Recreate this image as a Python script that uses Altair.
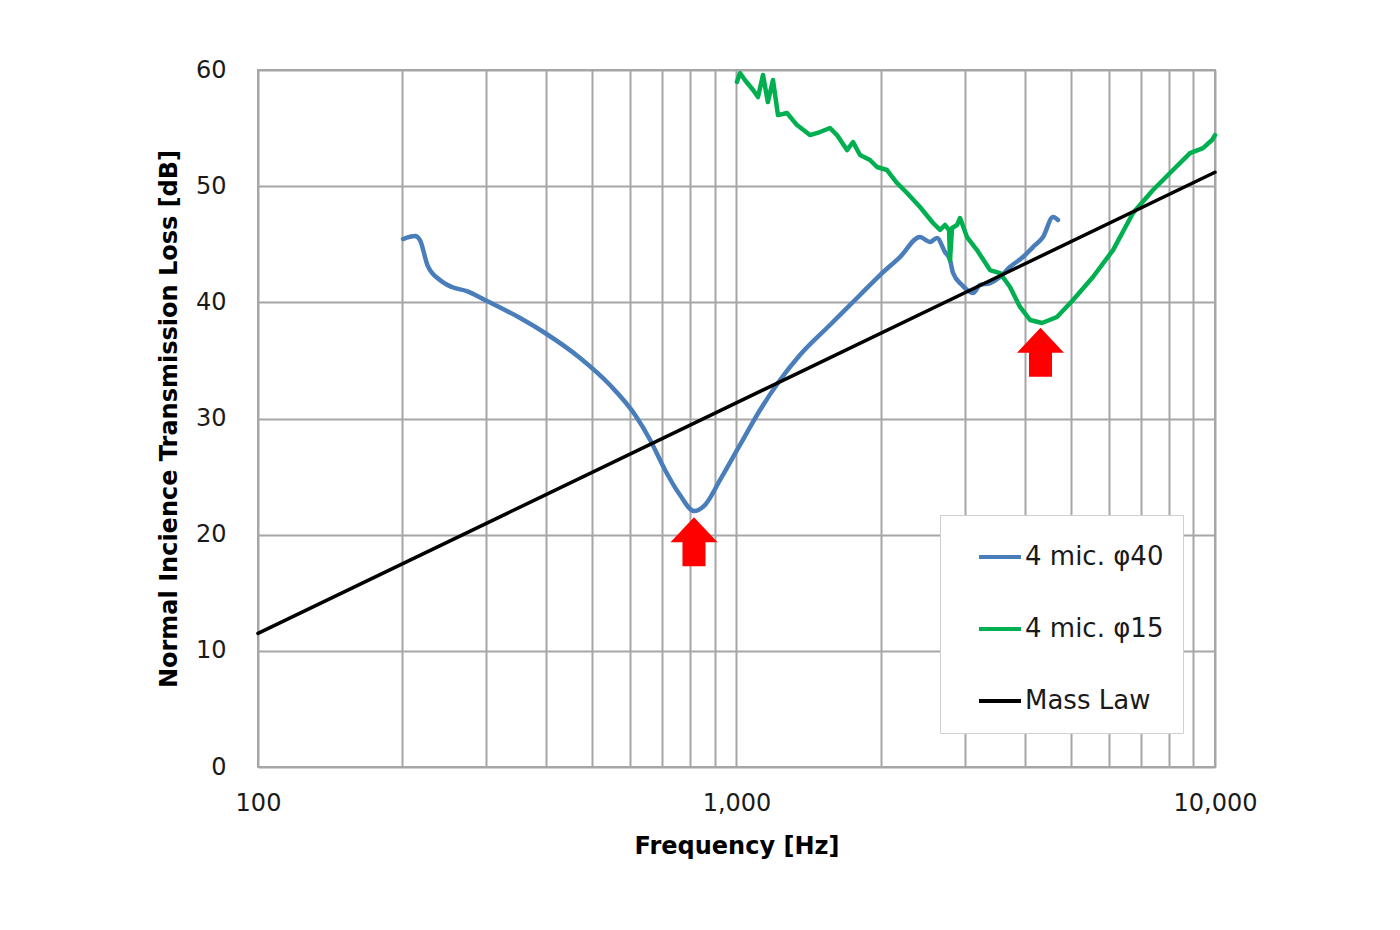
import altair as alt
import pandas as pd

# ---- data ----
blue_f = [201, 213, 218, 226, 240, 254, 273, 301, 353, 398, 471, 544, 614, 660, 709, 762,
          815, 859, 924, 1017, 1120, 1233, 1357, 1568, 1812, 1995, 2196, 2418, 2537, 2624,
          2727, 2794, 2835, 2960, 3121, 3227, 3387, 3553, 3729, 3969, 4165, 4371, 4586, 4697]
blue_db = [45.45, 45.71, 45.36, 43.21, 41.92, 41.32, 40.97, 40.11, 38.65, 37.36, 35.21, 32.88,
           30.30, 28.15, 25.57, 23.41, 22.04, 22.55, 24.71, 27.72, 30.73, 33.31, 35.47, 38.05,
           40.63, 42.35, 43.90, 45.62, 45.19, 45.54, 44.33, 43.64, 42.52, 41.49, 40.80, 41.49,
           41.66, 42.18, 43.04, 43.90, 44.76, 45.62, 47.34, 47.09]

green_f = [1002, 1017, 1041, 1083, 1109, 1136, 1163, 1192, 1221, 1275, 1338, 1424, 1494, 1568,
           1622, 1702, 1752, 1812, 1901, 1966, 2063, 2165, 2272, 2418, 2575, 2663, 2727, 2781,
           2794, 2821, 2890, 2932, 3032, 3181, 3387, 3553, 3729, 3913, 4106, 4350, 4675, 5050,
           5559, 6122, 6740, 7421, 8170, 8866, 9439, 9856, 10000]
green_db = [58.97, 59.74, 59.14, 58.28, 57.67, 59.57, 57.24, 59.14, 56.12, 56.30, 55.26, 54.40,
            54.66, 55.01, 54.40, 53.11, 53.80, 52.68, 52.25, 51.65, 51.39, 50.27, 49.41, 48.21,
            46.83, 46.23, 46.66, 46.23, 43.64, 46.40, 46.66, 47.26, 45.62, 44.50, 42.78, 42.52,
            41.32, 39.60, 38.48, 38.22, 38.74, 40.20, 42.18, 44.50, 47.69, 49.67, 51.39, 52.85,
            53.28, 53.97, 54.40]

mass_f = [100, 10000]
mass_db = [11.5, 51.2]

arrow_f = [815, 4318]
arrow_db = [19.4, 35.7]

series_names = ["4 mic. φ40", "4 mic. φ15", "Mass Law"]
series_colors = ["#4a7ebb", "#00b050", "#000000"]

x_ticks = [100, 200, 300, 400, 500, 600, 700, 800, 900,
           1000, 2000, 3000, 4000, 5000, 6000, 7000, 8000, 9000, 10000]
y_ticks = [0, 10, 20, 30, 40, 50, 60]

# ---- tables ----
blue_df = pd.DataFrame({"f": blue_f, "db": blue_db, "series": series_names[0]})
green_df = pd.DataFrame({"f": green_f, "db": green_db, "series": series_names[1]})
mass_df = pd.DataFrame({"f": mass_f, "db": mass_db, "series": series_names[2]})
arrows_df = pd.DataFrame({"f": arrow_f, "db": arrow_db})

FONT = "DejaVu Sans"

x_scale = alt.Scale(type="log", domain=[100, 10000], nice=False)
y_scale = alt.Scale(domain=[0, 60], nice=False, zero=True)

x_axis = alt.Axis(
    title="Frequency [Hz]",
    values=x_ticks,
    labelExpr="(datum.value == 100 || datum.value == 1000 || datum.value == 10000) ? format(datum.value, ',') : ''",
    grid=True, ticks=False, domain=False,
    labelPadding=24, titlePadding=19,
    labelFontSize=24, titleFontSize=24, labelFlush=False,
)
y_axis = alt.Axis(
    title="Normal Incience Transmission Loss [dB]",
    values=y_ticks,
    grid=True, ticks=False, domain=False,
    labelPadding=32, titlePadding=14,
    labelFontSize=24, titleFontSize=24,
)

color_enc = alt.Color(
    "series:N",
    scale=alt.Scale(domain=series_names, range=series_colors),
    sort=series_names,
    legend=alt.Legend(
        title=None, orient="none", legendX=682, legendY=445,
        symbolType="stroke", symbolSize=1764, symbolStrokeWidth=4,
        labelFontSize=26, labelOffset=2, rowPadding=36, padding=19,
        symbolOffset=18,
        fillColor="white", strokeColor="#d0d0d0",
    ),
)


def curve(df, width, interp):
    return alt.Chart(df).mark_line(
        strokeWidth=width, strokeCap="round", strokeJoin="round", interpolate=interp
    ).encode(
        x=alt.X("f:Q", scale=x_scale, axis=x_axis),
        y=alt.Y("db:Q", scale=y_scale, axis=y_axis),
        color=color_enc,
    )


blue = curve(blue_df, 4.5, "monotone")
green = curve(green_df, 4.5, "linear")
mass = curve(mass_df, 3.5, "linear")

arrow_path = "M0,-1 L0.96,0.02 L0.47,0.02 L0.47,1 L-0.47,1 L-0.47,0.02 L-0.96,0.02 Z"
arrows = alt.Chart(arrows_df).mark_point(
    shape=arrow_path, filled=True, color="#ff0000", opacity=1, size=2401, strokeWidth=0
).encode(
    x=alt.X("f:Q", scale=x_scale),
    y=alt.Y("db:Q", scale=y_scale),
)

chart = alt.layer(blue, green, mass, arrows).properties(
    width=957, height=697,
    autosize=alt.AutoSizeParams(type="none"),
    padding={"left": 250, "top": 62, "right": 170, "bottom": 150},
).configure(
    font=FONT,
    background="white",
).configure_view(
    stroke="#a6a6a6", strokeWidth=2,
).configure_axis(
    gridColor="#a6a6a6", gridWidth=2, gridOpacity=1,
    labelColor="#1a1a1a", titleColor="#000000",
    labelFont=FONT, titleFont=FONT, titleFontWeight="bold",
).configure_legend(
    labelFont=FONT, labelColor="#1a1a1a",
)

chart.save("out.html", embed_options={"renderer": "svg", "actions": False})
